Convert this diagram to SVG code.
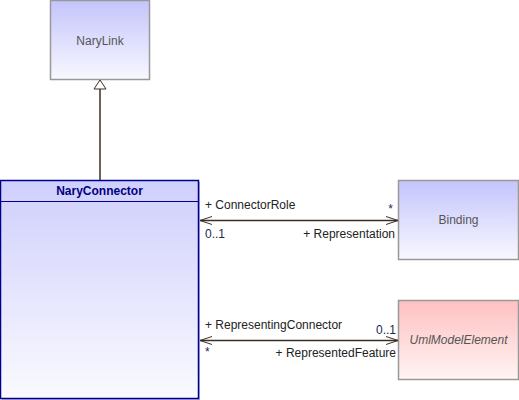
<svg xmlns="http://www.w3.org/2000/svg" width="519" height="400" viewBox="0 0 519 400">
<defs>
<linearGradient id="gBlue" x1="0" y1="0" x2="0" y2="1"><stop offset="0" stop-color="#c4c4fc"/><stop offset="1" stop-color="#f8f8ff"/></linearGradient>
<linearGradient id="gBlue2" x1="0" y1="0" x2="0" y2="1"><stop offset="0" stop-color="#cfcffc"/><stop offset="1" stop-color="#fafaff"/></linearGradient>
<linearGradient id="gRed" x1="0" y1="0" x2="0" y2="1"><stop offset="0" stop-color="#ffc0c0"/><stop offset="1" stop-color="#fff4f4"/></linearGradient>
<marker id="open" viewBox="0 0 12 10" refX="12" refY="5" markerWidth="12" markerHeight="10" markerUnits="userSpaceOnUse" orient="auto-start-reverse">
<path d="M0,1 L12,5 L0,9" fill="none" stroke="#3a2e22" stroke-width="1"/>
</marker>
</defs>
<style>
.box{stroke:#999999;stroke-width:1.5}
.name{font-family:"Liberation Sans",Arial,sans-serif;font-size:12px;fill:#555555;text-anchor:middle}
.lbl{font-family:"Liberation Sans",Arial,sans-serif;font-size:12px;fill:#222222}
.mul{font-family:"Liberation Sans",Arial,sans-serif;font-size:12px;fill:#1a2a50}
.conn{stroke:#3a2e22;stroke-width:1.5;fill:none}
</style>
<g id="NaryLink">
<rect class="box" x="50.5" y="0.5" width="99" height="79" fill="url(#gBlue)"/>
<text class="name" x="100" y="45">NaryLink</text>
</g>
<g id="NaryConnector">
<rect x="2" y="182" width="198" height="218" fill="#b8b8e8"/>
<rect x="0.5" y="180.5" width="198" height="218" fill="url(#gBlue2)" stroke="#00008b" stroke-width="1.5"/>
<line x1="0.5" y1="201.5" x2="198.5" y2="201.5" stroke="#00008b" stroke-width="1.2"/>
<text x="99.5" y="195" text-anchor="middle" font-family="'Liberation Sans',Arial,sans-serif" font-size="12" font-weight="bold" fill="#000080">NaryConnector</text>
</g>
<g id="Binding">
<rect class="box" x="398.5" y="180.5" width="120" height="79" fill="url(#gBlue)"/>
<text class="name" x="458.5" y="224">Binding</text>
</g>
<g id="UmlModelElement">
<rect class="box" x="398.5" y="300.5" width="120" height="79" fill="url(#gRed)"/>
<text class="name" x="458.5" y="344" font-style="italic">UmlModelElement</text>
</g>
<g id="connectors">
<line class="conn" x1="100" y1="180" x2="100" y2="89"/>
<path d="M100,80 L106,89 L94,89 Z" fill="#ffffff" stroke="#3a2e22" stroke-width="1"/>
<line class="conn" x1="200" y1="220.5" x2="398" y2="220.5" marker-start="url(#open)" marker-end="url(#open)"/>
<line class="conn" x1="200" y1="340.5" x2="398" y2="340.5" marker-start="url(#open)" marker-end="url(#open)"/>
<text class="lbl" x="205" y="209">+ ConnectorRole</text>
<text class="mul" x="205" y="238">0..1</text>
<text class="mul" x="393" y="213" text-anchor="end">*</text>
<text class="lbl" x="395" y="238" text-anchor="end">+ Representation</text>
<text class="lbl" x="205" y="329">+ RepresentingConnector</text>
<text class="mul" x="396" y="334" text-anchor="end">0..1</text>
<text class="mul" x="205" y="356">*</text>
<text class="lbl" x="396" y="357" text-anchor="end">+ RepresentedFeature</text>
</g>
</svg>
